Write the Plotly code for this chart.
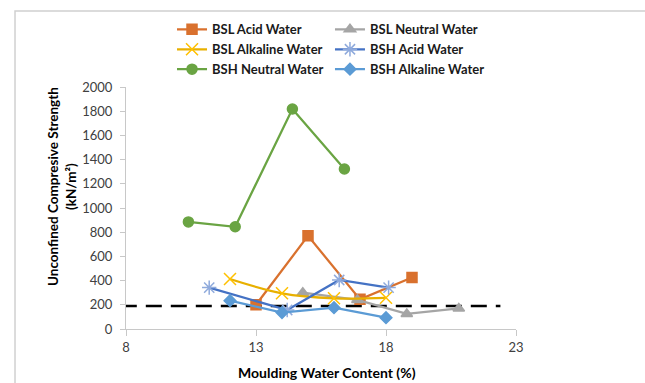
import plotly.graph_objects as go

# Unconfined compressive strength vs moulding water content
bsl_acid_x = [13.0, 15.0, 17.0, 19.0]
bsl_acid_y = [200, 770, 245, 425]

bsl_neutral_x = [14.8, 16.9, 18.8, 20.8]
bsl_neutral_y = [300, 240, 125, 170]

bsl_alkaline_x = [12.0, 14.0, 16.0, 18.0]
bsl_alkaline_y = [413, 295, 254, 258]

bsh_acid_x = [11.2, 14.2, 16.2, 18.1]
bsh_acid_y = [342, 157, 405, 342]

bsh_neutral_x = [10.4, 12.2, 14.4, 16.4]
bsh_neutral_y = [885, 845, 1818, 1322]

bsh_alkaline_x = [12.0, 14.0, 16.0, 18.0]
bsh_alkaline_y = [234, 136, 176, 94]

limit_x = [7.8, 22.4]
limit_y = [190, 190]

FONT = "Lato, 'Open Sans', sans-serif"

fig = go.Figure()

# reference threshold line
fig.add_trace(go.Scatter(x=limit_x, y=limit_y, mode="lines", showlegend=False,
                         line=dict(color="black", width=2.5, dash="16px,9px"),
                         hoverinfo="skip"))

series = [
    ("BSL Acid Water", bsl_acid_x, bsl_acid_y, "#d9712e", "square", 10, "#d9712e", "linear", "legend"),
    ("BSL Neutral Water", bsl_neutral_x, bsl_neutral_y, "#a5a5a5", "triangle-up", 10, "#a5a5a5", "linear", "legend2"),
    ("BSL Alkaline Water", bsl_alkaline_x, bsl_alkaline_y, "#e8b000", "x-thin-open", 12, "#ffc000", "spline", "legend"),
    ("BSH Acid Water", bsh_acid_x, bsh_acid_y, "#4472c4", "asterisk-open", 12, "#8faadc", "linear", "legend2"),
    ("BSH Neutral Water", bsh_neutral_x, bsh_neutral_y, "#6aa443", "circle", 10, "#6aa443", "linear", "legend"),
    ("BSH Alkaline Water", bsh_alkaline_x, bsh_alkaline_y, "#5b9bd5", "diamond", 9, "#5b9bd5", "linear", "legend2"),
]

for name, xs, ys, lc, sym, size, mc, shape, leg in series:
    fig.add_trace(go.Scatter(
        x=xs, y=ys, name=name, mode="lines+markers", legend=leg,
        line=dict(color=lc, width=2.25, shape=shape),
        marker=dict(symbol=sym, size=size, color=mc,
                    line=dict(color=mc, width=1.5)),
    ))

legend_style = dict(font=dict(family=FONT, size=13, color="#1a1a1a", weight="bold"),
                    bgcolor="rgba(0,0,0,0)", yanchor="top", xanchor="left",
                    tracegroupgap=0)

fig.update_layout(
    width=645, height=383,
    margin=dict(l=126, r=129, t=87, b=54),
    paper_bgcolor="white", plot_bgcolor="white",
    font=dict(family=FONT, size=13, color="#595959"),
    legend=dict(x=0.118, y=1.30, **legend_style),
    legend2=dict(x=0.523, y=1.30, **legend_style),
    xaxis=dict(range=[8, 23], tickvals=[8, 13, 18, 23], showgrid=False,
               zeroline=False, showline=True, linecolor="#c8c8c8", linewidth=1,
               ticks="outside", ticklen=6, tickcolor="#c8c8c8",
               tickfont=dict(size=13, color="#404040")),
    yaxis=dict(range=[0, 2000], dtick=200, showgrid=False, zeroline=False,
               showline=True, linecolor="#c8c8c8", linewidth=1,
               ticks="outside", ticklen=5, tickcolor="#c8c8c8",
               ticklabelstandoff=5,
               tickfont=dict(size=13, color="#404040")),
    annotations=[
        dict(text="<b>Unconfined Compresive Strength<br>(kN/m²)</b>",
             xref="paper", yref="paper", x=-0.164, y=0.587,
             xanchor="center", yanchor="middle", textangle=-90, showarrow=False,
             font=dict(family=FONT, size=13.5, color="black")),
        dict(text="<b>Moulding Water Content (%)</b>",
             xref="paper", yref="paper", x=0.515, y=-0.178,
             xanchor="center", yanchor="middle", showarrow=False,
             font=dict(family=FONT, size=14, color="black")),
    ],
    shapes=[
        dict(type="path", xref="paper", yref="paper",
             path="M -0.2846,-1 L -0.2846,1.314 L 2,1.314",
             line=dict(color="#d0d0d0", width=1.5)),
    ],
)

fig.write_html("out.html")
